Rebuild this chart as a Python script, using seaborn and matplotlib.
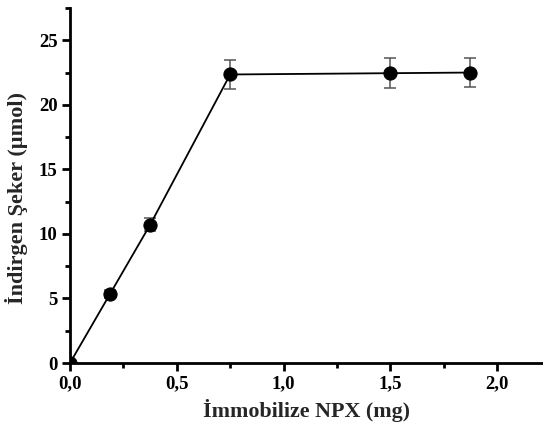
import matplotlib
matplotlib.use("Agg")
import matplotlib.pyplot as plt
from matplotlib.ticker import MultipleLocator, FuncFormatter
import seaborn as sns
import pandas as pd

# Enzyme amount vs. reducing sugar produced
npx_mg = [0.0, 0.1875, 0.375, 0.75, 1.5, 1.875]
sugar_umol = [0.0, 5.35, 10.7, 22.35, 22.45, 22.5]
sugar_err = [0.0, 0.3, 0.5, 1.15, 1.15, 1.15]

df = pd.DataFrame({"npx": npx_mg, "sugar": sugar_umol})

sns.set_theme(style="ticks")
plt.rcParams["font.family"] = ["Liberation Serif", "DejaVu Serif"]
plt.rcParams["font.weight"] = "bold"

fig = plt.figure(figsize=(5.43, 4.28), dpi=100)
ax = fig.add_axes([70 / 543, 65 / 428, 473 / 543, 355 / 428])

sns.lineplot(data=df, x="npx", y="sugar", ax=ax, color="black", linewidth=1.3,
             marker="o", markersize=9.5, markeredgecolor="black",
             markerfacecolor="black", clip_on=True, zorder=3)
ax.errorbar(npx_mg[1:], sugar_umol[1:], yerr=sugar_err[1:], fmt="none",
            ecolor="#555555", elinewidth=1.1, capsize=4, capthick=1.1, zorder=2)

ax.set_xlim(0, 2.215)
ax.set_ylim(0, 27.5)
ax.xaxis.set_major_locator(MultipleLocator(0.5))
ax.xaxis.set_minor_locator(MultipleLocator(0.25))
ax.yaxis.set_major_locator(MultipleLocator(5))
ax.yaxis.set_minor_locator(MultipleLocator(2.5))
ax.xaxis.set_major_formatter(FuncFormatter(lambda v, p: f"{v:.1f}".replace(".", ",")))
ax.yaxis.set_major_formatter(FuncFormatter(lambda v, p: f"{v:.0f}"))

for side in ("top", "right"):
    ax.spines[side].set_visible(False)
for side in ("left", "bottom"):
    ax.spines[side].set_linewidth(2.0)
    ax.spines[side].set_color("black")

ax.tick_params(axis="both", which="major", direction="out", length=6, width=2,
               labelsize=13.5, colors="black", pad=3)
ax.tick_params(axis="both", which="minor", direction="out", length=3.5, width=2,
               colors="black")
for lab in ax.get_xticklabels() + ax.get_yticklabels():
    lab.set_fontweight("bold")

ax.set_xlabel("İmmobilize NPX (mg)", fontsize=15.8, fontweight="bold", labelpad=5)
ax.set_ylabel("İndirgen Şeker (µmol)", fontsize=16, fontweight="bold")
ax.yaxis.set_label_coords(-0.088, 0.465)

fig.savefig("out.png", dpi=100)
